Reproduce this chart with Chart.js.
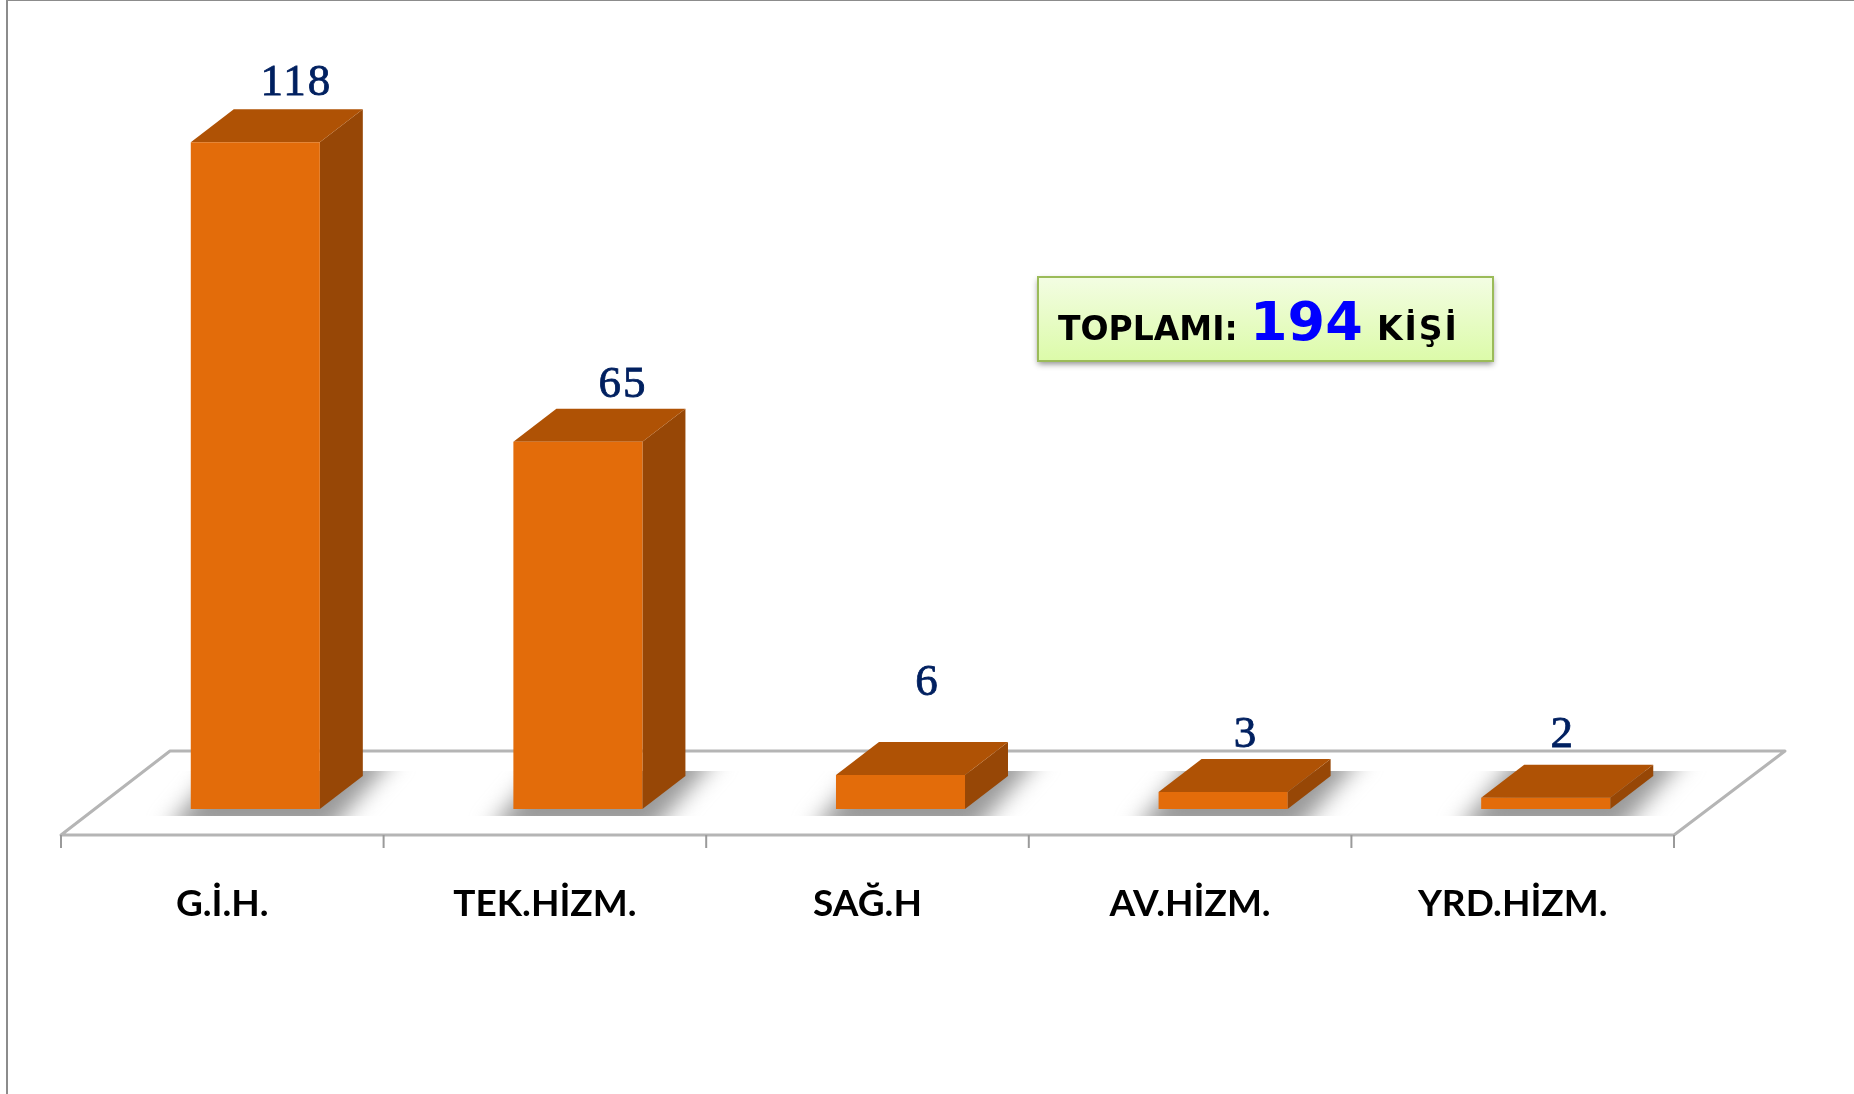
<!DOCTYPE html>
<html>
<head>
<meta charset="utf-8">
<style>
  html, body { margin: 0; padding: 0; background: #fff; }
  #wrap { width: 1854px; height: 1094px; position: relative; overflow: hidden; }
</style>
<script src="https://cdn.jsdelivr.net/npm/chart.js@4/dist/chart.umd.min.js"></script>
</head>
<body>
<div id="wrap"><canvas id="chart"></canvas></div>
<script>
const categories = ['G.İ.H.', 'TEK.HİZM.', 'SAĞ.H', 'AV.HİZM.', 'YRD.HİZM.'];
const values = [118, 65, 6, 3, 2];
const totalLabel = ['TOPLAMI:', '194', 'KİŞİ'];

// labels were hand placed in the original, offset from each bar's centre/top
const labelShiftX = [41, 45, 27, 23, 17];
const labelShiftY = [-59, -57, -92, -57, -63];

const DEPTH_X = 43;
const DEPTH_Y = 33;

function poly(ctx, pts) {
  ctx.beginPath();
  pts.forEach((p, i) => (i ? ctx.lineTo(p[0], p[1]) : ctx.moveTo(p[0], p[1])));
  ctx.closePath();
}

const scene = {
  id: 'scene',
  beforeDatasetsDraw(chart) {
    const { ctx, scales: { x, y } } = chart;
    const base = y.getPixelForValue(0);
    const step = x.width / categories.length;
    const frontL = x.left - 33;
    const frontR = x.right - 33;
    const frontY = base + 26;
    const backY = base - 58;

    ctx.save();
    // outer frame of the slide picture
    ctx.fillStyle = '#8c8c8c';
    ctx.fillRect(6, 0, 2, 1094);
    ctx.fillRect(6, 0, 1848, 1);

    // floor
    ctx.strokeStyle = '#b5b5b5';
    ctx.lineWidth = 3;
    ctx.lineJoin = 'round';
    poly(ctx, [[frontL, frontY], [frontL + 109, backY], [frontR + 111, backY], [frontR, frontY]]);
    ctx.stroke();
    ctx.strokeStyle = '#9a9a9a';
    ctx.lineWidth = 2;
    for (let i = 0; i <= categories.length; i++) {
      const tx = frontL + i * step;
      ctx.beginPath();
      ctx.moveTo(tx, frontY);
      ctx.lineTo(tx, frontY + 13);
      ctx.stroke();
    }

    const bars = chart.getDatasetMeta(0).data;
    // soft shadows on the floor
    bars.forEach((bar) => {
      const { x: cx, width } = bar.getProps(['x', 'width'], true);
      const l = cx - width / 2;
      const r = cx + width / 2;
      ctx.save();
      ctx.beginPath();
      ctx.rect(l - 70, base - 38, width + 210, 45);
      ctx.clip();
      ctx.filter = 'blur(11px)';
      ctx.fillStyle = '#999999';
      poly(ctx, [[l - 26, base + 24], [r + 8, base + 24], [r + 78, base - 56], [l + 40, base - 56]]);
      ctx.fill();
      ctx.restore();
    });

    // top and side faces of each bar
    bars.forEach((bar) => {
      const { x: cx, y: top, width } = bar.getProps(['x', 'y', 'width'], true);
      const l = cx - width / 2;
      const r = cx + width / 2;
      ctx.fillStyle = '#974706';
      poly(ctx, [[r, top], [r + DEPTH_X, top - DEPTH_Y], [r + DEPTH_X, base - DEPTH_Y], [r, base]]);
      ctx.fill();
      ctx.fillStyle = '#AF5205';
      poly(ctx, [[l, top], [l + DEPTH_X, top - DEPTH_Y], [r + DEPTH_X, top - DEPTH_Y], [r, top]]);
      ctx.fill();
    });
    ctx.restore();
  },
  afterDatasetsDraw(chart) {
    const { ctx } = chart;
    ctx.save();
    // value labels
    ctx.font = '45px "Liberation Serif"';
    ctx.letterSpacing = '2px';
    ctx.fillStyle = '#002060';
    ctx.strokeStyle = '#002060';
    ctx.lineWidth = 0.8;
    ctx.textAlign = 'center';
    ctx.textBaseline = 'middle';
    chart.getDatasetMeta(0).data.forEach((bar, i) => {
      const { x, y } = bar.getProps(['x', 'y'], true);
      ctx.fillText(String(values[i]), x + labelShiftX[i], y + labelShiftY[i]);
      ctx.strokeText(String(values[i]), x + labelShiftX[i], y + labelShiftY[i]);
    });
    ctx.letterSpacing = '0px';

    // total box
    const bx = 1038, by = 277, bw = 455, bh = 84;
    const grad = ctx.createLinearGradient(0, by, 0, by + bh);
    grad.addColorStop(0, '#F3FDE3');
    grad.addColorStop(1, '#DCFBA9');
    ctx.save();
    ctx.shadowColor = 'rgba(0,0,0,0.45)';
    ctx.shadowBlur = 6;
    ctx.shadowOffsetY = 3;
    ctx.fillStyle = grad;
    ctx.fillRect(bx, by, bw, bh);
    ctx.restore();
    ctx.strokeStyle = '#9BBB59';
    ctx.lineWidth = 2;
    ctx.strokeRect(bx, by, bw, bh);

    ctx.textAlign = 'left';
    ctx.textBaseline = 'alphabetic';
    ctx.fillStyle = '#000';
    ctx.font = 'bold 33px "DejaVu Sans"';
    ctx.fillText(totalLabel[0], 1058, 340);
    ctx.letterSpacing = '2px';
    ctx.fillText(totalLabel[2], 1377, 340);
    ctx.letterSpacing = '0px';
    ctx.fillStyle = '#0000FF';
    ctx.font = 'bold 54px "DejaVu Sans"';
    ctx.fillText(totalLabel[1], 1250, 340);
    ctx.restore();
  },
};

new Chart(document.getElementById('chart'), {
  type: 'bar',
  data: {
    labels: categories,
    datasets: [
      {
        data: values,
        backgroundColor: '#E36C0A',
        barPercentage: 0.4,
        categoryPercentage: 1,
      },
    ],
  },
  options: {
    responsive: true,
    maintainAspectRatio: false,
    animation: false,
    events: [],
    layout: { padding: { left: 94, right: 147, top: 131, bottom: 0 } },
    scales: {
      x: {
        grid: { display: false },
        border: { display: false },
        afterFit(scale) {
          scale.height = 285;
        },
        ticks: {
          color: '#000',
          font: { family: 'Lato', weight: 'bold', size: 37 },
          padding: 65,
          labelOffset: -33,
          maxRotation: 0,
          autoSkip: false,
        },
      },
      y: { display: false, min: 0, max: 120 },
    },
    plugins: { legend: { display: false }, tooltip: { enabled: false } },
  },
  plugins: [scene],
});
</script>
</body>
</html>
